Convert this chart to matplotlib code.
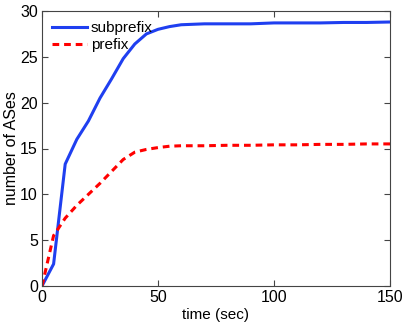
import matplotlib
matplotlib.use("Agg")
import matplotlib.pyplot as plt
import numpy as np

plt.rcParams['font.family'] = ['Liberation Sans', 'DejaVu Sans']

t = [0, 5, 10, 15, 20, 25, 30, 35, 40, 45, 50, 55, 60, 70, 80, 90, 100, 110, 120, 130, 140, 150]
subprefix = [0, 2.4, 13.3, 16.0, 18.0, 20.5, 22.6, 24.8, 26.4, 27.5, 28.0, 28.3, 28.5, 28.6,
             28.6, 28.6, 28.7, 28.7, 28.7, 28.75, 28.75, 28.8]
prefix = [0, 5.5, 7.4, 8.8, 10.0, 11.2, 12.5, 13.8, 14.6, 14.9, 15.1, 15.25, 15.3, 15.3,
          15.35, 15.35, 15.4, 15.4, 15.45, 15.45, 15.5, 15.5]

fig = plt.figure(figsize=(4.07, 3.23), dpi=100)
ax = fig.add_axes([42/407, 37/323, 348/407, 275/323])

ax.plot(t, subprefix, color='#1f3ff0', lw=2.2, label='subprefix')
ax.plot(t, prefix, color='#ff0000', lw=2.2, ls=(0, (2.2, 1.6)), label='prefix')

ax.set_xlim(0, 150)
ax.set_ylim(0, 30)
ax.set_xticks(np.arange(0, 151, 50))
ax.set_yticks(np.arange(0, 31, 5))
ax.tick_params(direction='in', top=True, right=True, labelsize=11.5, length=4,
               color='#444444', pad=3)
for s in ax.spines.values():
    s.set_color('#444444')
ax.set_xlabel('time (sec)', fontsize=11, labelpad=2)
ax.set_ylabel('number of ASes', fontsize=11.5, labelpad=1)

ax.legend(loc='upper left', bbox_to_anchor=(0.0, 1.0), frameon=False, fontsize=11,
          handlelength=2.3, handletextpad=0.25, borderaxespad=0.25, labelspacing=0.2)

fig.savefig('out.png', dpi=100)
